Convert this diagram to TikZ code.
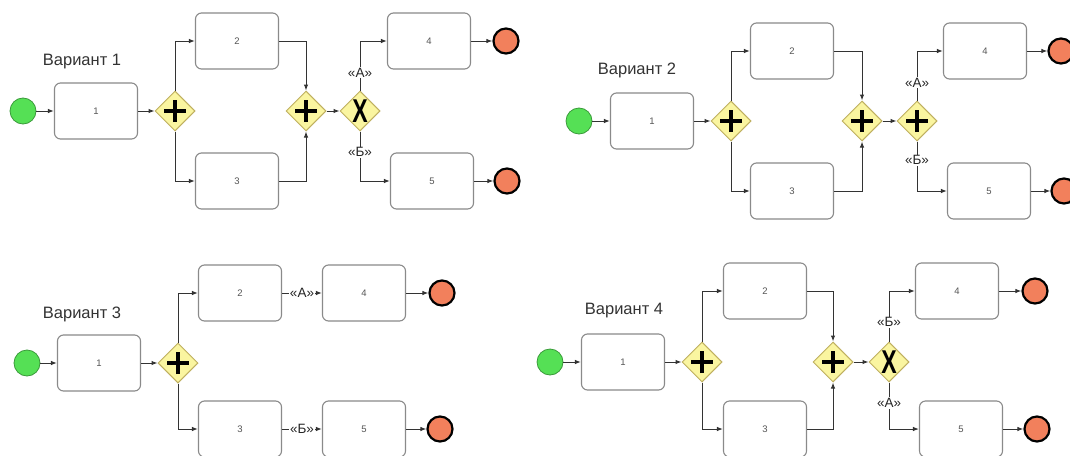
\documentclass[tikz,border=0pt]{standalone}
\usepackage{fontspec}
\setmainfont{Liberation Sans}
\usetikzlibrary{shapes.geometric,arrows.meta}
\definecolor{linec}{HTML}{333333}
\definecolor{boxc}{HTML}{8A8A8A}
\definecolor{gwfill}{HTML}{FAF5A0}
\definecolor{gwdraw}{HTML}{BFB060}
\definecolor{startfill}{HTML}{55E055}
\definecolor{startdraw}{HTML}{3A9A3A}
\definecolor{endfill}{HTML}{F2805C}
\definecolor{numc}{HTML}{555555}
\definecolor{titlec}{HTML}{333333}
\begin{document}
\begin{tikzpicture}[x=1pt,y=-1pt,
 task/.style={draw=boxc, line width=1.1pt, rounded corners=6pt, fill=white, minimum width=83pt, minimum height=56pt, inner sep=0pt, font=\fontsize{9.5}{9.5}\selectfont, text=numc},
 gwbase/.style={shape=diamond, draw=gwdraw, fill=gwfill, line width=1pt, minimum width=40pt, minimum height=40pt, inner sep=0pt},
 gwand/.style={gwbase, path picture={\draw[line width=4pt, black] ([xshift=-11pt]path picture bounding box.center) -- ([xshift=11pt]path picture bounding box.center) ([yshift=-11pt]path picture bounding box.center) -- ([yshift=11pt]path picture bounding box.center);}},
 gwxor/.style={gwbase, path picture={\node[font=\bfseries\fontsize{33}{33}\selectfont, inner sep=0pt] at (path picture bounding box.center) {\scalebox{0.7}[1]{X}};}},
 startev/.style={circle, draw=startdraw, fill=startfill, line width=0.8pt, minimum size=26pt, inner sep=0pt},
 endev/.style={circle, draw=black, fill=endfill, line width=2.2pt, minimum size=25pt, inner sep=0pt},
 flow/.style={draw=linec, line width=1pt, -{Latex[length=6pt,width=4.5pt]}},
 cond/.style={fill=white, inner sep=1pt, font=\fontsize{13.5}{13.5}\selectfont, text=black!85},
 title/.style={font=\fontsize{16.5}{16.5}\selectfont, text=titlec},
]
\fill[white] (0,0) rectangle (1070,455);
\useasboundingbox (0,0) rectangle (1070,455);

% ---------- Variant 1 ----------
\node[title] (t1) at (82,62) {Вариант 1};
\node[startev] (s1) at (23,111) {};
\node[task] (b11) at (96,111) {1};
\node[gwand] (g11) at (175,111) {};
\node[task] (b12) at (237,41) {2};
\node[task] (b13) at (237,181) {3};
\node[gwand] (g12) at (306,111) {};
\node[gwxor] (x1) at (360,111) {};
\node[task] (b14) at (429,41) {4};
\node[task] (b15) at (432,181) {5};
\node[endev] (e11) at (506,41) {};
\node[endev] (e12) at (507,181) {};
\draw[flow] (s1) -- (b11);
\draw[flow] (b11) -- (g11);
\draw[flow] (g11.north) |- (b12.west);
\draw[flow] (g11.south) |- (b13.west);
\draw[flow] (b12.east) -| (g12.north);
\draw[flow] (b13.east) -| (g12.south);
\draw[flow] (g12) -- (x1);
\draw[flow] (x1.north) |- node[cond, pos=0.18] {«А»} (b14.west);
\draw[flow] (x1.south) |- node[cond, pos=0.21] {«Б»} (b15.west);
\draw[flow] (b14) -- (e11);
\draw[flow] (b15) -- (e12);

% ---------- Variant 2 ----------
\node[title] (t2) at (637,70) {Вариант 2};
\node[startev] (s2) at (579,121) {};
\node[task] (b21) at (652,121) {1};
\node[gwand] (g21) at (731,121) {};
\node[task] (b22) at (792,51) {2};
\node[task] (b23) at (792,191) {3};
\node[gwand] (g22) at (862,121) {};
\node[gwand] (g23) at (917,121) {};
\node[task] (b24) at (985,51) {4};
\node[task] (b25) at (989,191) {5};
\node[endev] (e21) at (1061,51) {};
\node[endev] (e22) at (1064,191) {};
\draw[flow] (s2) -- (b21);
\draw[flow] (b21) -- (g21);
\draw[flow] (g21.north) |- (b22.west);
\draw[flow] (g21.south) |- (b23.west);
\draw[flow] (b22.east) -| (g22.north);
\draw[flow] (b23.east) -| (g22.south);
\draw[flow] (g22) -- (g23);
\draw[flow] (g23.north) |- node[cond, pos=0.18] {«А»} (b24.west);
\draw[flow] (g23.south) |- node[cond, pos=0.19] {«Б»} (b25.west);
\draw[flow] (b24) -- (e21);
\draw[flow] (b25) -- (e22);

% ---------- Variant 3 ----------
\node[title] (t3) at (82,314) {Вариант 3};
\node[startev] (s3) at (27,363) {};
\node[task] (b31) at (99,363) {1};
\node[gwand] (g31) at (178,363) {};
\node[task] (b32) at (240,293) {2};
\node[task] (b33) at (240,429) {3};
\node[task] (b34) at (364,293) {4};
\node[task] (b35) at (364,429) {5};
\node[endev] (e31) at (442,293) {};
\node[endev] (e32) at (440,429) {};
\draw[flow] (s3) -- (b31);
\draw[flow] (b31) -- (g31);
\draw[flow] (g31.north) |- (b32.west);
\draw[flow] (g31.south) |- (b33.west);
\draw[flow] (b32) -- node[cond] {«А»} (b34);
\draw[flow] (b33) -- node[cond] {«Б»} (b35);
\draw[flow] (b34) -- (e31);
\draw[flow] (b35) -- (e32);

% ---------- Variant 4 ----------
\node[title] (t4) at (624,311) {Вариант 4};
\node[startev] (s4) at (550,362) {};
\node[task] (b41) at (623,362) {1};
\node[gwand] (g41) at (702,362) {};
\node[task] (b42) at (765,291) {2};
\node[task] (b43) at (765,429) {3};
\node[gwand] (g42) at (833,362) {};
\node[gwxor] (x4) at (889,362) {};
\node[task] (b44) at (957,291) {4};
\node[task] (b45) at (961,429) {5};
\node[endev] (e41) at (1035,291) {};
\node[endev] (e42) at (1037,429) {};
\draw[flow] (s4) -- (b41);
\draw[flow] (b41) -- (g41);
\draw[flow] (g41.north) |- (b42.west);
\draw[flow] (g41.south) |- (b43.west);
\draw[flow] (b42.east) -| (g42.north);
\draw[flow] (b43.east) -| (g42.south);
\draw[flow] (g42) -- (x4);
\draw[flow] (x4.north) |- node[cond, pos=0.19] {«Б»} (b44.west);
\draw[flow] (x4.south) |- node[cond, pos=0.22] {«А»} (b45.west);
\draw[flow] (b44) -- (e41);
\draw[flow] (b45) -- (e42);
\end{tikzpicture}
\end{document}
